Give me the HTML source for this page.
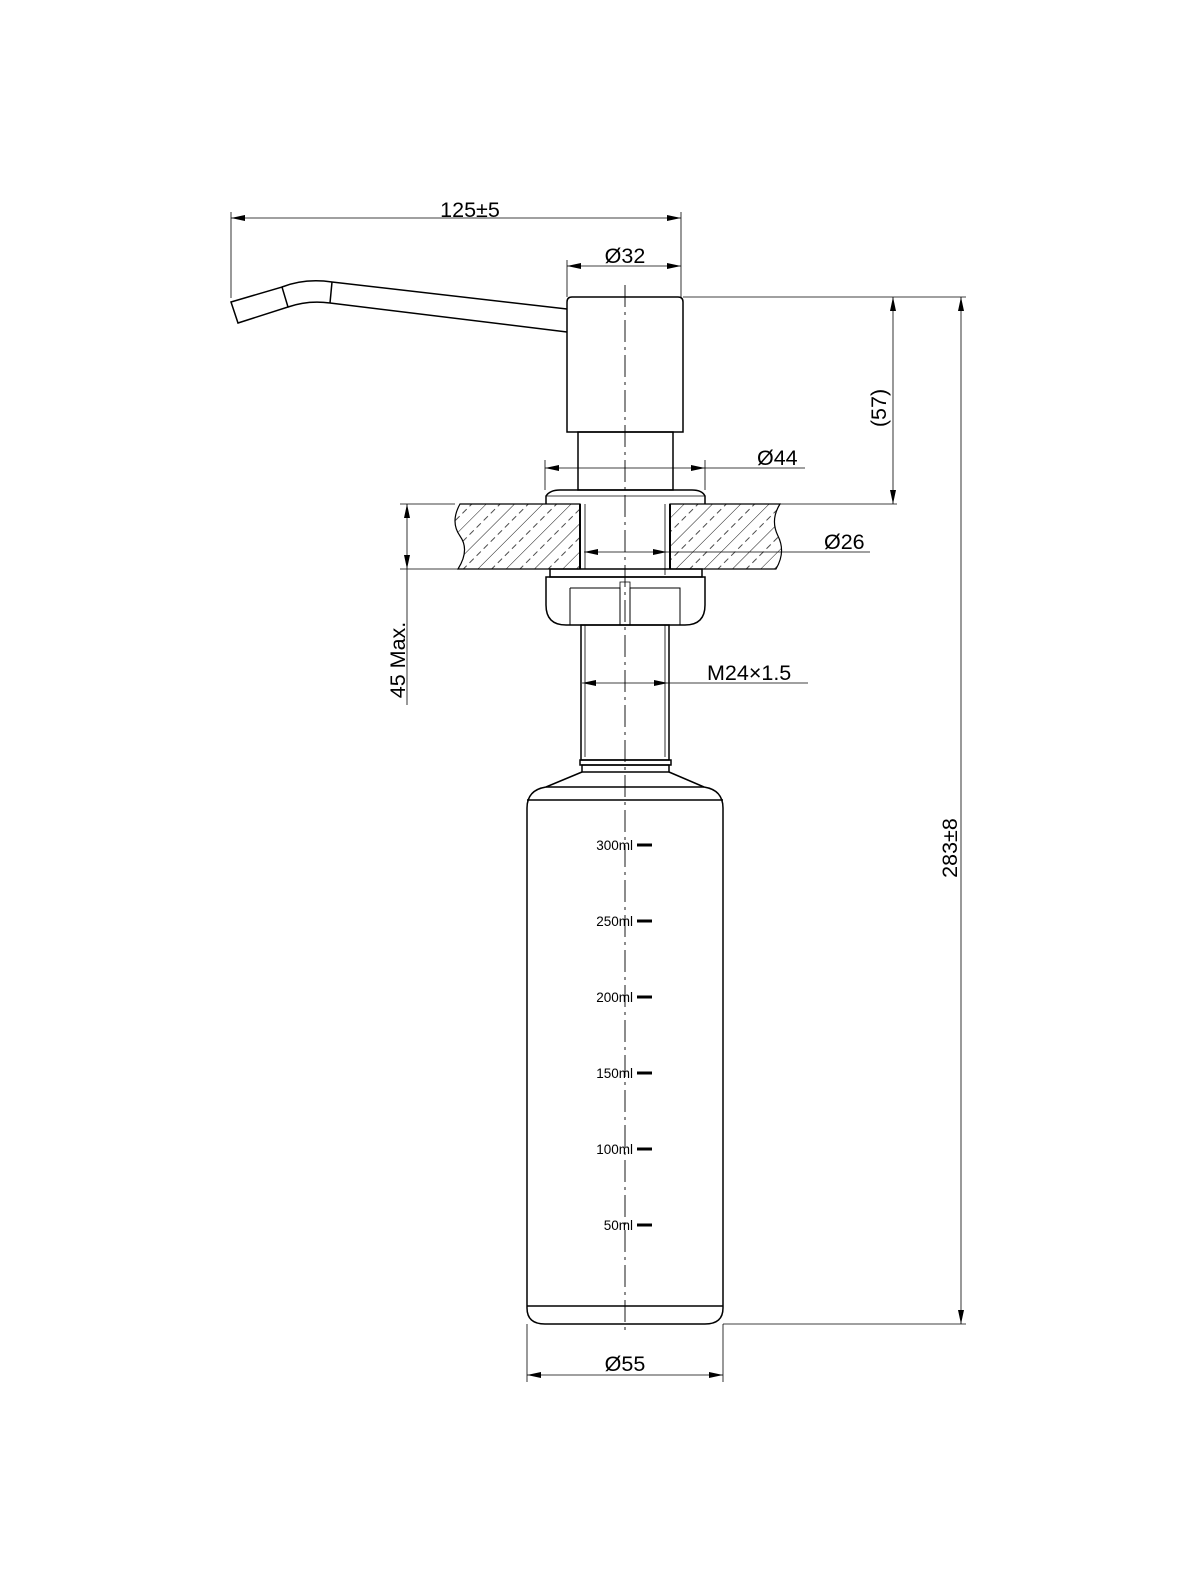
<!DOCTYPE html>
<html><head><style>
html,body{margin:0;padding:0;background:#fff;}
svg{display:block;}
text{font-family:"Liberation Sans",Arial,sans-serif;fill:#000;}
</style></head><body>
<svg width="1200" height="1570" viewBox="0 0 1200 1570" xmlns="http://www.w3.org/2000/svg">
<defs>
<marker id="a" viewBox="0 0 14 6" refX="14" refY="3" markerWidth="14" markerHeight="6" orient="auto-start-reverse" markerUnits="userSpaceOnUse"><path d="M0,0 L14,3 L0,6 z" fill="#000"/></marker>
<pattern id="h" patternUnits="userSpaceOnUse" width="20" height="20" patternTransform="rotate(45)">
<line x1="0" y1="0" x2="0" y2="20" stroke="#000" stroke-width="0.9"/>
<line x1="10" y1="0" x2="10" y2="20" stroke="#000" stroke-width="0.7" stroke-dasharray="6,4"/>
</pattern>
</defs>
<g fill="none" stroke="#000" stroke-width="0.8">
<line x1="231" y1="212" x2="231" y2="298"/>
<line x1="681" y1="212" x2="681" y2="297"/>
<line x1="231" y1="218" x2="681" y2="218" marker-start="url(#a)" marker-end="url(#a)"/>
<line x1="567" y1="260" x2="567" y2="297"/>
<line x1="567" y1="266" x2="681" y2="266" marker-start="url(#a)" marker-end="url(#a)"/>
<line x1="683" y1="297" x2="966" y2="297"/>
<line x1="780" y1="504" x2="897" y2="504"/>
<line x1="893" y1="297" x2="893" y2="504" marker-start="url(#a)" marker-end="url(#a)"/>
<line x1="961" y1="297" x2="961" y2="1324" marker-start="url(#a)" marker-end="url(#a)"/>
<line x1="723" y1="1324" x2="966" y2="1324"/>
<line x1="545" y1="460" x2="545" y2="490"/>
<line x1="705" y1="460" x2="705" y2="490"/>
<line x1="545" y1="468" x2="705" y2="468" marker-start="url(#a)" marker-end="url(#a)"/>
<line x1="705" y1="468" x2="805" y2="468"/>
<line x1="584" y1="552" x2="667" y2="552" marker-start="url(#a)" marker-end="url(#a)"/>
<line x1="667" y1="552" x2="870" y2="552"/>
<line x1="582" y1="683" x2="668" y2="683" marker-start="url(#a)" marker-end="url(#a)"/>
<line x1="668" y1="683" x2="808" y2="683"/>
<line x1="400" y1="504" x2="455" y2="504"/>
<line x1="400" y1="569" x2="460" y2="569"/>
<line x1="407" y1="504" x2="407" y2="569" marker-start="url(#a)" marker-end="url(#a)"/>
<line x1="407" y1="569" x2="407" y2="705"/>
<line x1="527" y1="1324" x2="527" y2="1382"/>
<line x1="723" y1="1324" x2="723" y2="1382"/>
<line x1="527" y1="1375" x2="723" y2="1375" marker-start="url(#a)" marker-end="url(#a)"/>
</g>
<path d="M460,504 L580,504 L580,569 L458,569 Q470,550 460,536 Q450,522 460,504 Z" fill="url(#h)" stroke="#000" stroke-width="1.2"/>
<path d="M670,504 L780,504 Q770,520 778,536 Q786,552 776,569 L670,569 Z" fill="url(#h)" stroke="#000" stroke-width="1.2"/>
<g fill="none" stroke="#000" stroke-width="1.5">
<path d="M332,282 L567,309 M330,303 L567,332"/>
<path d="M282,287 Q305,278 332,282 M288,307 Q308,300 330,303"/>
<path d="M231,302 L282,287 L288,307 L238,323 Z"/>
<line x1="332" y1="282" x2="330" y2="303"/>
<path d="M567,432 L567,302 Q567,297 572,297 L678,297 Q683,297 683,302 L683,432 Z" fill="#fff"/>
<rect x="578" y="432" width="95" height="58"/>
<path d="M546,504 L546,496 Q550,490 560,490 L692,490 Q702,490 705,496 L705,504"/>
<line x1="546" y1="496" x2="705" y2="496" stroke-width="0.8"/>
<line x1="580" y1="504" x2="580" y2="569" stroke-width="2"/>
<line x1="670" y1="504" x2="670" y2="569" stroke-width="2"/>
<line x1="585" y1="504" x2="585" y2="569" stroke-width="0.8"/>
<line x1="665" y1="504" x2="665" y2="575" stroke-width="0.8"/>
<rect x="550" y="569" width="152" height="8"/>
<path d="M546,577 L705,577 L705,605 Q705,625 685,625 L566,625 Q546,625 546,605 Z"/>
<path d="M570,588 L620,588 L620,625 M570,588 L570,625 M630,625 L630,588 L680,588 L680,625" stroke-width="1"/>
<path d="M620,588 L620,582 L630,582 L630,588" stroke-width="0.8"/>
<rect x="581" y="625" width="88" height="135"/>
<line x1="585" y1="625" x2="585" y2="757" stroke-width="0.8"/>
<line x1="665" y1="625" x2="665" y2="757" stroke-width="0.8"/>
<rect x="580" y="760" width="91" height="5"/>
<rect x="582" y="765" width="87" height="7"/>
<path d="M582,772 L546,787 Q527,790 527,808 L527,1308 Q527,1324 545,1324 L705,1324 Q723,1324 723,1308 L723,808 Q723,790 704,787 L669,772"/>
<line x1="546" y1="787" x2="704" y2="787"/>
<line x1="527" y1="800" x2="723" y2="800"/>
<line x1="527" y1="1306" x2="723" y2="1306"/>
</g>
<line x1="625" y1="285" x2="625" y2="1330" stroke="#000" stroke-width="0.9" stroke-dasharray="22,5,3,5"/>
<g stroke="#000" stroke-width="3">
<line x1="637" y1="845" x2="652" y2="845"/>
<line x1="637" y1="921" x2="652" y2="921"/>
<line x1="637" y1="997" x2="652" y2="997"/>
<line x1="637" y1="1073" x2="652" y2="1073"/>
<line x1="637" y1="1149" x2="652" y2="1149"/>
<line x1="637" y1="1225" x2="652" y2="1225"/>
</g>
<g font-size="13.5" text-anchor="end">
<text x="633" y="850">300ml</text>
<text x="633" y="926">250ml</text>
<text x="633" y="1002">200ml</text>
<text x="633" y="1078">150ml</text>
<text x="633" y="1154">100ml</text>
<text x="633" y="1230">50ml</text>
</g>
<g font-size="21.5">
<text x="470" y="217" text-anchor="middle">125±5</text>
<text x="625" y="263" text-anchor="middle">Ø32</text>
<text x="757" y="465">Ø44</text>
<text x="824" y="549">Ø26</text>
<text x="707" y="680">M24×1.5</text>
<text x="625" y="1371" text-anchor="middle">Ø55</text>
<text transform="translate(886,408) rotate(-90)" text-anchor="middle">(57)</text>
<text transform="translate(957,848) rotate(-90)" text-anchor="middle">283±8</text>
<text transform="translate(405,660) rotate(-90)" text-anchor="middle">45 Max.</text>
</g>
</svg>
</body></html>
